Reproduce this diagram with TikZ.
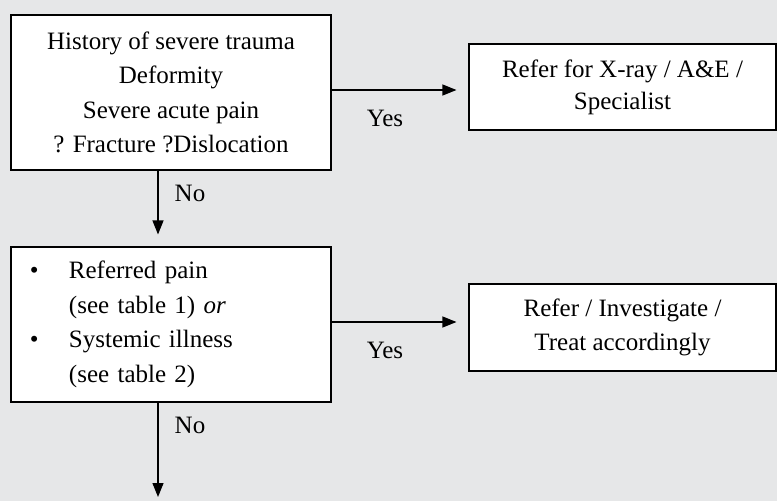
\documentclass[tikz,border=0pt]{standalone}
\usepackage{fontspec}
\setmainfont{Liberation Serif}
\usetikzlibrary{arrows.meta}
\definecolor{bg}{HTML}{E6E7E8}
\begin{document}
\begin{tikzpicture}[x=1pt,y=-1pt,
  every node/.style={font=\fontsize{25}{34.5}\selectfont},
  box/.style={draw=black, line width=1.1pt, fill=white, inner sep=0pt, align=center},
  arr/.style={line width=1.2pt, -{Triangle[length=14pt,width=11pt]}},
  lbl/.style={inner sep=0pt}]
\fill[bg] (0,0) rectangle (777,501);
\useasboundingbox (0,0) rectangle (777,501);

\node[box, minimum width=320pt, minimum height=155pt] (b1) at (171,92.5)
  {History of severe trauma\\Deformity\\Severe acute pain\\? Fracture ?Dislocation};
\node[box, minimum width=307pt, minimum height=86pt, font=\fontsize{25}{32}\selectfont] (b2) at (622.5,87)
  {Refer for X-ray / A\&E /\\Specialist};
\node[box, minimum width=320pt, minimum height=155pt, text width=282pt, align=left, inner xsep=19pt] (b3) at (171,324.5)
  {\makebox[39pt][l]{\textbullet}Referred pain\\
   \hspace*{39pt}(see table 1) \textit{or}\\
   \makebox[39pt][l]{\textbullet}Systemic illness\\
   \hspace*{39pt}(see table 2)};
\node[box, minimum width=307pt, minimum height=87pt] (b4) at (622.5,327.5)
  {Refer / Investigate /\\Treat accordingly};

\coordinate (x1) at (158,0);
\coordinate (y1) at (0,90);
\coordinate (y2) at (0,322);
\coordinate (end) at (158,497);

\draw[arr] (b1.south -| x1) -- ([yshift=12pt]b3.north -| x1);
\draw[arr] (b3.south -| x1) -- (end);
\draw[arr] (b1.east |- y1) -- ([xshift=-12pt]b2.west |- y1);
\draw[arr] (b3.east |- y2) -- ([xshift=-12pt]b4.west |- y2);

\node[lbl] (no1) at (190,193) {No};
\node[lbl] (no2) at (190,425) {No};
\node[lbl] (yes1) at (385,118) {Yes};
\node[lbl] (yes2) at (385,350) {Yes};
\end{tikzpicture}
\end{document}
